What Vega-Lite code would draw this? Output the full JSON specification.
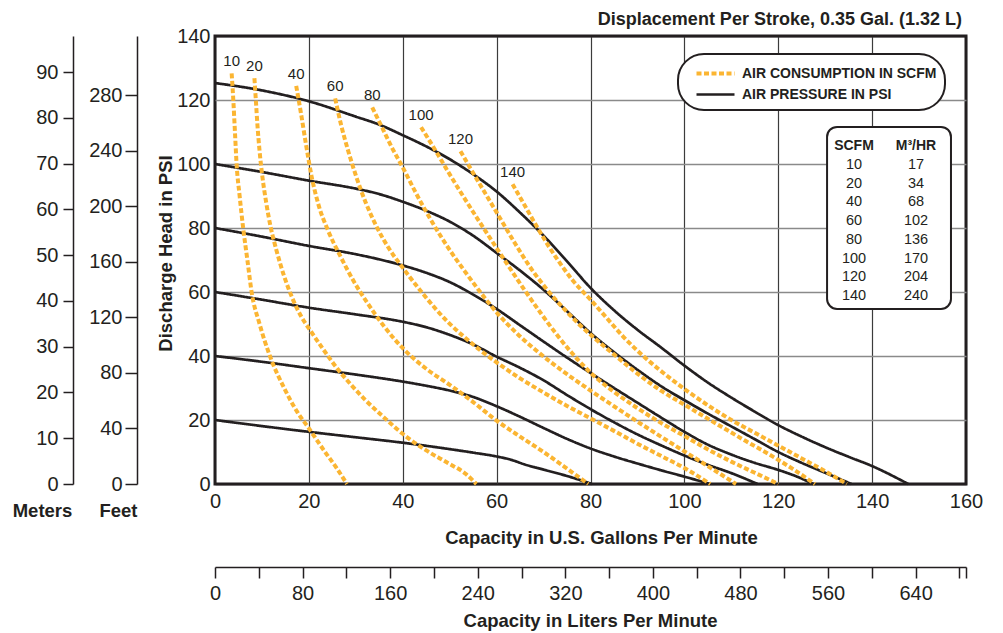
{
  "$schema": "https://vega.github.io/schema/vega-lite/v6.json",
  "width": 751,
  "height": 448,
  "autosize": {"type": "none"},
  "padding": {"left": 215, "top": 36, "right": 37, "bottom": 149},
  "background": "white",
  "title": {"text": "Displacement Per Stroke, 0.35 Gal. (1.32 L)", "anchor": "end", "frame": "group", "font": "Liberation Sans, Arial, sans-serif", "fontSize": 18, "fontWeight": "bold", "color": "#231f20", "offset": -3, "dx": -4},
  "config": {
    "font": "Liberation Sans, Arial, sans-serif",
    "view": {"stroke": "#231f20", "strokeWidth": 3},
    "axis": {"labelFont": "Liberation Sans, Arial, sans-serif", "labelFontSize": 20, "labelColor": "#231f20", "titleFont": "Liberation Sans, Arial, sans-serif", "titleFontSize": 18.5, "titleFontWeight": "bold", "titleColor": "#231f20", "domainColor": "#231f20", "tickColor": "#231f20", "labelOverlap": false, "labelFlush": false},
    "legend": {"strokeWidth": 2},
    "text": {"font": "Liberation Sans, Arial, sans-serif", "color": "#231f20"}
  },
  "datasets": {
    "curves": [
      {"kind":"pressure","curve":"P125","gpm":0,"psi":125.3},{"kind":"pressure","curve":"P125","gpm":10,"psi":123},{"kind":"pressure","curve":"P125","gpm":20,"psi":119.6},{"kind":"pressure","curve":"P125","gpm":30,"psi":114.8},{"kind":"pressure","curve":"P125","gpm":35,"psi":112.3},{"kind":"pressure","curve":"P125","gpm":40,"psi":109},{"kind":"pressure","curve":"P125","gpm":45,"psi":105.5},{"kind":"pressure","curve":"P125","gpm":50,"psi":101.5},{"kind":"pressure","curve":"P125","gpm":55,"psi":96.8},{"kind":"pressure","curve":"P125","gpm":60,"psi":91.4},{"kind":"pressure","curve":"P125","gpm":65,"psi":84.8},{"kind":"pressure","curve":"P125","gpm":70,"psi":77.6},{"kind":"pressure","curve":"P125","gpm":75,"psi":69.6},{"kind":"pressure","curve":"P125","gpm":80,"psi":61.3},{"kind":"pressure","curve":"P125","gpm":85,"psi":54.3},{"kind":"pressure","curve":"P125","gpm":90,"psi":48.2},{"kind":"pressure","curve":"P125","gpm":95,"psi":42.7},{"kind":"pressure","curve":"P125","gpm":100,"psi":37},{"kind":"pressure","curve":"P125","gpm":105,"psi":31.7},{"kind":"pressure","curve":"P125","gpm":110,"psi":27},{"kind":"pressure","curve":"P125","gpm":115,"psi":22.6},{"kind":"pressure","curve":"P125","gpm":120,"psi":18.4},{"kind":"pressure","curve":"P125","gpm":125,"psi":14.8},{"kind":"pressure","curve":"P125","gpm":130,"psi":11.5},{"kind":"pressure","curve":"P125","gpm":135,"psi":8.5},{"kind":"pressure","curve":"P125","gpm":140,"psi":5.6},{"kind":"pressure","curve":"P125","gpm":147.7,"psi":0},
      {"kind":"pressure","curve":"P100","gpm":0,"psi":100},{"kind":"pressure","curve":"P100","gpm":10,"psi":97.5},{"kind":"pressure","curve":"P100","gpm":20,"psi":94.8},{"kind":"pressure","curve":"P100","gpm":30,"psi":92.3},{"kind":"pressure","curve":"P100","gpm":35,"psi":90.6},{"kind":"pressure","curve":"P100","gpm":40,"psi":88.2},{"kind":"pressure","curve":"P100","gpm":45,"psi":85.4},{"kind":"pressure","curve":"P100","gpm":50,"psi":82},{"kind":"pressure","curve":"P100","gpm":55,"psi":77.6},{"kind":"pressure","curve":"P100","gpm":60,"psi":72.2},{"kind":"pressure","curve":"P100","gpm":65,"psi":66.7},{"kind":"pressure","curve":"P100","gpm":70,"psi":60.7},{"kind":"pressure","curve":"P100","gpm":75,"psi":54},{"kind":"pressure","curve":"P100","gpm":80,"psi":47.2},{"kind":"pressure","curve":"P100","gpm":85,"psi":41.2},{"kind":"pressure","curve":"P100","gpm":90,"psi":35.7},{"kind":"pressure","curve":"P100","gpm":95,"psi":30.6},{"kind":"pressure","curve":"P100","gpm":100,"psi":26.2},{"kind":"pressure","curve":"P100","gpm":105,"psi":22},{"kind":"pressure","curve":"P100","gpm":110,"psi":18},{"kind":"pressure","curve":"P100","gpm":115,"psi":14},{"kind":"pressure","curve":"P100","gpm":120,"psi":10},{"kind":"pressure","curve":"P100","gpm":125,"psi":6.6},{"kind":"pressure","curve":"P100","gpm":130,"psi":3.5},{"kind":"pressure","curve":"P100","gpm":135.6,"psi":0},
      {"kind":"pressure","curve":"P80","gpm":0,"psi":80},{"kind":"pressure","curve":"P80","gpm":10,"psi":77.3},{"kind":"pressure","curve":"P80","gpm":20,"psi":74.4},{"kind":"pressure","curve":"P80","gpm":30,"psi":71.8},{"kind":"pressure","curve":"P80","gpm":35,"psi":70.2},{"kind":"pressure","curve":"P80","gpm":40,"psi":68.3},{"kind":"pressure","curve":"P80","gpm":45,"psi":66},{"kind":"pressure","curve":"P80","gpm":50,"psi":63.1},{"kind":"pressure","curve":"P80","gpm":55,"psi":59.2},{"kind":"pressure","curve":"P80","gpm":60,"psi":54.7},{"kind":"pressure","curve":"P80","gpm":65,"psi":49.6},{"kind":"pressure","curve":"P80","gpm":70,"psi":44.5},{"kind":"pressure","curve":"P80","gpm":75,"psi":39.5},{"kind":"pressure","curve":"P80","gpm":80,"psi":34.7},{"kind":"pressure","curve":"P80","gpm":85,"psi":30},{"kind":"pressure","curve":"P80","gpm":90,"psi":25.4},{"kind":"pressure","curve":"P80","gpm":95,"psi":20.8},{"kind":"pressure","curve":"P80","gpm":100,"psi":16.3},{"kind":"pressure","curve":"P80","gpm":105,"psi":12.3},{"kind":"pressure","curve":"P80","gpm":110,"psi":9.2},{"kind":"pressure","curve":"P80","gpm":115,"psi":6.6},{"kind":"pressure","curve":"P80","gpm":120,"psi":4.4},{"kind":"pressure","curve":"P80","gpm":124,"psi":2.3},{"kind":"pressure","curve":"P80","gpm":127.5,"psi":0},
      {"kind":"pressure","curve":"P60","gpm":0,"psi":60},{"kind":"pressure","curve":"P60","gpm":10,"psi":57.6},{"kind":"pressure","curve":"P60","gpm":20,"psi":55.1},{"kind":"pressure","curve":"P60","gpm":30,"psi":53},{"kind":"pressure","curve":"P60","gpm":40,"psi":50.7},{"kind":"pressure","curve":"P60","gpm":45,"psi":49},{"kind":"pressure","curve":"P60","gpm":50,"psi":46.6},{"kind":"pressure","curve":"P60","gpm":55,"psi":43.6},{"kind":"pressure","curve":"P60","gpm":60,"psi":39.8},{"kind":"pressure","curve":"P60","gpm":65,"psi":36.3},{"kind":"pressure","curve":"P60","gpm":70,"psi":32.4},{"kind":"pressure","curve":"P60","gpm":75,"psi":27.8},{"kind":"pressure","curve":"P60","gpm":80,"psi":23.4},{"kind":"pressure","curve":"P60","gpm":85,"psi":19.3},{"kind":"pressure","curve":"P60","gpm":90,"psi":15.5},{"kind":"pressure","curve":"P60","gpm":95,"psi":12.1},{"kind":"pressure","curve":"P60","gpm":100,"psi":8.9},{"kind":"pressure","curve":"P60","gpm":105,"psi":6},{"kind":"pressure","curve":"P60","gpm":110,"psi":3.4},{"kind":"pressure","curve":"P60","gpm":115.6,"psi":0},
      {"kind":"pressure","curve":"P40","gpm":0,"psi":40},{"kind":"pressure","curve":"P40","gpm":10,"psi":38.2},{"kind":"pressure","curve":"P40","gpm":20,"psi":36.2},{"kind":"pressure","curve":"P40","gpm":30,"psi":34.2},{"kind":"pressure","curve":"P40","gpm":40,"psi":32},{"kind":"pressure","curve":"P40","gpm":45,"psi":30.7},{"kind":"pressure","curve":"P40","gpm":50,"psi":29.2},{"kind":"pressure","curve":"P40","gpm":55,"psi":27.2},{"kind":"pressure","curve":"P40","gpm":60,"psi":24.3},{"kind":"pressure","curve":"P40","gpm":65,"psi":21},{"kind":"pressure","curve":"P40","gpm":70,"psi":17.5},{"kind":"pressure","curve":"P40","gpm":75,"psi":14.1},{"kind":"pressure","curve":"P40","gpm":80,"psi":11.1},{"kind":"pressure","curve":"P40","gpm":85,"psi":8.6},{"kind":"pressure","curve":"P40","gpm":90,"psi":6.4},{"kind":"pressure","curve":"P40","gpm":95,"psi":4.3},{"kind":"pressure","curve":"P40","gpm":100,"psi":2.3},{"kind":"pressure","curve":"P40","gpm":105.5,"psi":0},
      {"kind":"pressure","curve":"P20","gpm":0,"psi":20},{"kind":"pressure","curve":"P20","gpm":10,"psi":18.1},{"kind":"pressure","curve":"P20","gpm":20,"psi":16.3},{"kind":"pressure","curve":"P20","gpm":30,"psi":14.6},{"kind":"pressure","curve":"P20","gpm":40,"psi":12.9},{"kind":"pressure","curve":"P20","gpm":50,"psi":10.9},{"kind":"pressure","curve":"P20","gpm":55,"psi":9.8},{"kind":"pressure","curve":"P20","gpm":60,"psi":8.6},{"kind":"pressure","curve":"P20","gpm":63,"psi":7.6},{"kind":"pressure","curve":"P20","gpm":66,"psi":6.1},{"kind":"pressure","curve":"P20","gpm":70,"psi":4.5},{"kind":"pressure","curve":"P20","gpm":75,"psi":2.5},{"kind":"pressure","curve":"P20","gpm":80.3,"psi":0},
      {"kind":"air","curve":"C10","scfm":10,"gpm":3.55,"psi":128.3},{"kind":"air","curve":"C10","scfm":10,"gpm":3.9,"psi":120},{"kind":"air","curve":"C10","scfm":10,"gpm":4.25,"psi":110},{"kind":"air","curve":"C10","scfm":10,"gpm":4.6,"psi":100},{"kind":"air","curve":"C10","scfm":10,"gpm":5.25,"psi":90},{"kind":"air","curve":"C10","scfm":10,"gpm":6,"psi":80},{"kind":"air","curve":"C10","scfm":10,"gpm":6.9,"psi":70},{"kind":"air","curve":"C10","scfm":10,"gpm":7.8,"psi":60},{"kind":"air","curve":"C10","scfm":10,"gpm":9.5,"psi":50},{"kind":"air","curve":"C10","scfm":10,"gpm":11.7,"psi":40},{"kind":"air","curve":"C10","scfm":10,"gpm":14.9,"psi":29.5},{"kind":"air","curve":"C10","scfm":10,"gpm":17.4,"psi":22.8},{"kind":"air","curve":"C10","scfm":10,"gpm":19.9,"psi":17.6},{"kind":"air","curve":"C10","scfm":10,"gpm":23.4,"psi":10.1},{"kind":"air","curve":"C10","scfm":10,"gpm":26,"psi":4.8},{"kind":"air","curve":"C10","scfm":10,"gpm":28.1,"psi":0},
      {"kind":"air","curve":"C20","scfm":20,"gpm":8.4,"psi":126.8},{"kind":"air","curve":"C20","scfm":20,"gpm":8.7,"psi":120},{"kind":"air","curve":"C20","scfm":20,"gpm":9.05,"psi":112},{"kind":"air","curve":"C20","scfm":20,"gpm":9.5,"psi":104},{"kind":"air","curve":"C20","scfm":20,"gpm":10.1,"psi":96},{"kind":"air","curve":"C20","scfm":20,"gpm":10.9,"psi":88},{"kind":"air","curve":"C20","scfm":20,"gpm":11.9,"psi":80},{"kind":"air","curve":"C20","scfm":20,"gpm":13.1,"psi":73},{"kind":"air","curve":"C20","scfm":20,"gpm":14.6,"psi":65.5},{"kind":"air","curve":"C20","scfm":20,"gpm":16.5,"psi":58},{"kind":"air","curve":"C20","scfm":20,"gpm":18.5,"psi":52},{"kind":"air","curve":"C20","scfm":20,"gpm":20.2,"psi":48.2},{"kind":"air","curve":"C20","scfm":20,"gpm":23,"psi":42.2},{"kind":"air","curve":"C20","scfm":20,"gpm":26.3,"psi":35.6},{"kind":"air","curve":"C20","scfm":20,"gpm":29,"psi":31},{"kind":"air","curve":"C20","scfm":20,"gpm":32,"psi":26.3},{"kind":"air","curve":"C20","scfm":20,"gpm":36,"psi":20.8},{"kind":"air","curve":"C20","scfm":20,"gpm":40.3,"psi":15.3},{"kind":"air","curve":"C20","scfm":20,"gpm":45,"psi":10.5},{"kind":"air","curve":"C20","scfm":20,"gpm":49.7,"psi":6.5},{"kind":"air","curve":"C20","scfm":20,"gpm":53.3,"psi":3.3},{"kind":"air","curve":"C20","scfm":20,"gpm":55.7,"psi":0},
      {"kind":"air","curve":"C40","scfm":40,"gpm":17.3,"psi":124.4},{"kind":"air","curve":"C40","scfm":40,"gpm":18.3,"psi":116},{"kind":"air","curve":"C40","scfm":40,"gpm":19.4,"psi":106},{"kind":"air","curve":"C40","scfm":40,"gpm":20.6,"psi":96},{"kind":"air","curve":"C40","scfm":40,"gpm":22.1,"psi":87},{"kind":"air","curve":"C40","scfm":40,"gpm":24,"psi":79.5},{"kind":"air","curve":"C40","scfm":40,"gpm":26.6,"psi":71.5},{"kind":"air","curve":"C40","scfm":40,"gpm":29.5,"psi":63.5},{"kind":"air","curve":"C40","scfm":40,"gpm":32.5,"psi":56.5},{"kind":"air","curve":"C40","scfm":40,"gpm":36,"psi":49.3},{"kind":"air","curve":"C40","scfm":40,"gpm":40.3,"psi":42},{"kind":"air","curve":"C40","scfm":40,"gpm":45,"psi":36},{"kind":"air","curve":"C40","scfm":40,"gpm":50,"psi":31},{"kind":"air","curve":"C40","scfm":40,"gpm":55,"psi":25.6},{"kind":"air","curve":"C40","scfm":40,"gpm":60.2,"psi":19.6},{"kind":"air","curve":"C40","scfm":40,"gpm":65,"psi":14.8},{"kind":"air","curve":"C40","scfm":40,"gpm":69.9,"psi":10.1},{"kind":"air","curve":"C40","scfm":40,"gpm":75,"psi":4.8},{"kind":"air","curve":"C40","scfm":40,"gpm":79.5,"psi":0},
      {"kind":"air","curve":"C60","scfm":60,"gpm":25.6,"psi":120.5},{"kind":"air","curve":"C60","scfm":60,"gpm":26.9,"psi":112},{"kind":"air","curve":"C60","scfm":60,"gpm":28.4,"psi":104},{"kind":"air","curve":"C60","scfm":60,"gpm":30.1,"psi":96},{"kind":"air","curve":"C60","scfm":60,"gpm":32.1,"psi":88},{"kind":"air","curve":"C60","scfm":60,"gpm":34.4,"psi":80.5},{"kind":"air","curve":"C60","scfm":60,"gpm":37.1,"psi":73.5},{"kind":"air","curve":"C60","scfm":60,"gpm":40.3,"psi":67},{"kind":"air","curve":"C60","scfm":60,"gpm":44,"psi":60},{"kind":"air","curve":"C60","scfm":60,"gpm":49.7,"psi":50.5},{"kind":"air","curve":"C60","scfm":60,"gpm":53.3,"psi":45.7},{"kind":"air","curve":"C60","scfm":60,"gpm":56,"psi":42.4},{"kind":"air","curve":"C60","scfm":60,"gpm":60.2,"psi":37.8},{"kind":"air","curve":"C60","scfm":60,"gpm":65,"psi":33},{"kind":"air","curve":"C60","scfm":60,"gpm":70,"psi":28.6},{"kind":"air","curve":"C60","scfm":60,"gpm":75,"psi":24.4},{"kind":"air","curve":"C60","scfm":60,"gpm":80,"psi":20.5},{"kind":"air","curve":"C60","scfm":60,"gpm":85,"psi":16.6},{"kind":"air","curve":"C60","scfm":60,"gpm":90,"psi":12.6},{"kind":"air","curve":"C60","scfm":60,"gpm":95,"psi":8.8},{"kind":"air","curve":"C60","scfm":60,"gpm":100,"psi":5},{"kind":"air","curve":"C60","scfm":60,"gpm":105.5,"psi":0},
      {"kind":"air","curve":"C80","scfm":80,"gpm":33.5,"psi":117.7},{"kind":"air","curve":"C80","scfm":80,"gpm":35.5,"psi":111.7},{"kind":"air","curve":"C80","scfm":80,"gpm":37.6,"psi":105.4},{"kind":"air","curve":"C80","scfm":80,"gpm":40.3,"psi":98.1},{"kind":"air","curve":"C80","scfm":80,"gpm":42.6,"psi":91.5},{"kind":"air","curve":"C80","scfm":80,"gpm":46.2,"psi":82},{"kind":"air","curve":"C80","scfm":80,"gpm":49.7,"psi":73.8},{"kind":"air","curve":"C80","scfm":80,"gpm":53.3,"psi":66.3},{"kind":"air","curve":"C80","scfm":80,"gpm":56.5,"psi":60},{"kind":"air","curve":"C80","scfm":80,"gpm":60,"psi":53.6},{"kind":"air","curve":"C80","scfm":80,"gpm":64.5,"psi":46.8},{"kind":"air","curve":"C80","scfm":80,"gpm":69.2,"psi":40.8},{"kind":"air","curve":"C80","scfm":80,"gpm":75,"psi":34.3},{"kind":"air","curve":"C80","scfm":80,"gpm":80,"psi":29.2},{"kind":"air","curve":"C80","scfm":80,"gpm":85,"psi":24.3},{"kind":"air","curve":"C80","scfm":80,"gpm":90,"psi":19.5},{"kind":"air","curve":"C80","scfm":80,"gpm":95,"psi":14.8},{"kind":"air","curve":"C80","scfm":80,"gpm":100,"psi":10.2},{"kind":"air","curve":"C80","scfm":80,"gpm":105,"psi":5.6},{"kind":"air","curve":"C80","scfm":80,"gpm":111,"psi":0},
      {"kind":"air","curve":"C100","scfm":100,"gpm":43.9,"psi":111.5},{"kind":"air","curve":"C100","scfm":100,"gpm":46.9,"psi":104.4},{"kind":"air","curve":"C100","scfm":100,"gpm":49.7,"psi":97.5},{"kind":"air","curve":"C100","scfm":100,"gpm":52.2,"psi":91.5},{"kind":"air","curve":"C100","scfm":100,"gpm":55,"psi":85},{"kind":"air","curve":"C100","scfm":100,"gpm":58,"psi":78.2},{"kind":"air","curve":"C100","scfm":100,"gpm":60.5,"psi":72.6},{"kind":"air","curve":"C100","scfm":100,"gpm":62.8,"psi":67.5},{"kind":"air","curve":"C100","scfm":100,"gpm":66,"psi":60.5},{"kind":"air","curve":"C100","scfm":100,"gpm":69.5,"psi":53.2},{"kind":"air","curve":"C100","scfm":100,"gpm":72.8,"psi":46.7},{"kind":"air","curve":"C100","scfm":100,"gpm":76,"psi":41},{"kind":"air","curve":"C100","scfm":100,"gpm":80,"psi":34.8},{"kind":"air","curve":"C100","scfm":100,"gpm":85,"psi":28.8},{"kind":"air","curve":"C100","scfm":100,"gpm":90,"psi":23.7},{"kind":"air","curve":"C100","scfm":100,"gpm":95,"psi":19.1},{"kind":"air","curve":"C100","scfm":100,"gpm":100,"psi":15},{"kind":"air","curve":"C100","scfm":100,"gpm":103.3,"psi":12.2},{"kind":"air","curve":"C100","scfm":100,"gpm":110,"psi":7},{"kind":"air","curve":"C100","scfm":100,"gpm":115,"psi":3.5},{"kind":"air","curve":"C100","scfm":100,"gpm":120,"psi":0},
      {"kind":"air","curve":"C120","scfm":120,"gpm":52.3,"psi":104},{"kind":"air","curve":"C120","scfm":120,"gpm":55,"psi":97.2},{"kind":"air","curve":"C120","scfm":120,"gpm":58,"psi":89.8},{"kind":"air","curve":"C120","scfm":120,"gpm":61,"psi":82.4},{"kind":"air","curve":"C120","scfm":120,"gpm":64,"psi":75},{"kind":"air","curve":"C120","scfm":120,"gpm":67.5,"psi":67},{"kind":"air","curve":"C120","scfm":120,"gpm":70.5,"psi":61.2},{"kind":"air","curve":"C120","scfm":120,"gpm":74,"psi":55.3},{"kind":"air","curve":"C120","scfm":120,"gpm":77.5,"psi":50},{"kind":"air","curve":"C120","scfm":120,"gpm":81.3,"psi":45},{"kind":"air","curve":"C120","scfm":120,"gpm":85,"psi":40.5},{"kind":"air","curve":"C120","scfm":120,"gpm":90,"psi":34.5},{"kind":"air","curve":"C120","scfm":120,"gpm":95,"psi":29.2},{"kind":"air","curve":"C120","scfm":120,"gpm":100,"psi":24.8},{"kind":"air","curve":"C120","scfm":120,"gpm":103.3,"psi":21.9},{"kind":"air","curve":"C120","scfm":120,"gpm":108,"psi":17.8},{"kind":"air","curve":"C120","scfm":120,"gpm":113,"psi":13.5},{"kind":"air","curve":"C120","scfm":120,"gpm":118,"psi":9.3},{"kind":"air","curve":"C120","scfm":120,"gpm":123,"psi":4.8},{"kind":"air","curve":"C120","scfm":120,"gpm":127.8,"psi":0},
      {"kind":"air","curve":"C140","scfm":140,"gpm":63.4,"psi":93.7},{"kind":"air","curve":"C140","scfm":140,"gpm":66,"psi":87},{"kind":"air","curve":"C140","scfm":140,"gpm":68.5,"psi":80.6},{"kind":"air","curve":"C140","scfm":140,"gpm":71,"psi":74.5},{"kind":"air","curve":"C140","scfm":140,"gpm":73.5,"psi":69},{"kind":"air","curve":"C140","scfm":140,"gpm":76,"psi":64},{"kind":"air","curve":"C140","scfm":140,"gpm":80,"psi":57.6},{"kind":"air","curve":"C140","scfm":140,"gpm":83.5,"psi":51.8},{"kind":"air","curve":"C140","scfm":140,"gpm":87,"psi":46},{"kind":"air","curve":"C140","scfm":140,"gpm":92,"psi":39},{"kind":"air","curve":"C140","scfm":140,"gpm":97,"psi":33},{"kind":"air","curve":"C140","scfm":140,"gpm":103.3,"psi":26.3},{"kind":"air","curve":"C140","scfm":140,"gpm":110,"psi":20},{"kind":"air","curve":"C140","scfm":140,"gpm":115,"psi":16},{"kind":"air","curve":"C140","scfm":140,"gpm":120,"psi":12},{"kind":"air","curve":"C140","scfm":140,"gpm":125,"psi":8},{"kind":"air","curve":"C140","scfm":140,"gpm":130,"psi":4},{"kind":"air","curve":"C140","scfm":140,"gpm":134.6,"psi":0}
    ],
    "table": [
      {"scfm":"10","m3hr":"17"},{"scfm":"20","m3hr":"34"},{"scfm":"40","m3hr":"68"},{"scfm":"60","m3hr":"102"},{"scfm":"80","m3hr":"136"},{"scfm":"100","m3hr":"170"},{"scfm":"120","m3hr":"204"},{"scfm":"140","m3hr":"240"}
    ]
  },
  "layer": [
    {
      "data": {"name": "curves"},
      "layer": [
        {
          "mark": {"type": "line", "interpolate": "monotone", "strokeCap": "butt"},
          "encoding": {
            "x": {"field": "gpm", "type": "quantitative", "scale": {"domain": [0, 160], "nice": false},
              "axis": {"orient": "bottom", "values": [0,20,40,60,80,100,120,140,160], "grid": true,
                "gridColor": {"condition": {"test": "datum.value === 0 || datum.value === 160", "value": "#231f20"}, "value": "#3c3c3c"},
                "gridWidth": 1.2, "ticks": false, "tickSize": 0, "domain": false, "labelPadding": 7,
                "title": "Capacity in U.S. Gallons Per Minute", "titleX": 386, "titleY": 53, "titleBaseline": "middle", "titleAlign": "center"}},
            "y": {"field": "psi", "type": "quantitative", "scale": {"domain": [0, 140], "nice": false},
              "axis": {"orient": "left", "values": [0,20,40,60,80,100,120,140], "grid": true,
                "gridColor": {"condition": {"test": "datum.value === 0 || datum.value === 140", "value": "#231f20"}, "value": "#8a8a8a"},
                "gridWidth": 1.3, "ticks": false, "tickSize": 0, "domain": false, "labelPadding": 5,
                "title": "Discharge Head in PSI", "titleX": -50, "titleY": 217, "titleAngle": -90, "titleAlign": "center", "titleBaseline": "middle"}},
            "color": {"field": "kind", "type": "nominal", "scale": {"domain": ["air", "pressure"], "range": ["#fbb532", "#231f20"]},
              "legend": {"orient": "none", "legendX": 463, "legendY": 18, "title": null, "symbolType": "M-2,0H2", "symbolSize": 361, "symbolOffset": 18,
                "labelFont": "Liberation Sans, Arial, sans-serif", "labelFontSize": 14, "labelFontWeight": "bold", "labelColor": "#231f20", "labelLimit": 0,
                "labelOffset": 15, "padding": 8, "rowPadding": 1.5, "fillColor": "white", "strokeColor": "#231f20", "cornerRadius": 26,
                "labelExpr": "datum.value === 'air' ? 'AIR CONSUMPTION IN SCFM\u00a0\u00a0\u00a0\u00a0\u00a0\u00a0' : 'AIR PRESSURE IN PSI'"}},
            "strokeDash": {"field": "kind", "type": "nominal", "scale": {"domain": ["air", "pressure"], "range": [[5, 2.5], [1, 0]]}},
            "strokeWidth": {"field": "kind", "type": "nominal", "scale": {"domain": ["air", "pressure"], "range": [4, 2.7]}},
            "detail": {"field": "curve"}
          }
        },
        {
          "transform": [
            {"filter": "datum.kind === 'air'"},
            {"joinaggregate": [{"op": "max", "field": "psi", "as": "top"}], "groupby": ["curve"]},
            {"filter": "datum.psi === datum.top"}
          ],
          "mark": {"type": "text", "dy": -12, "fontSize": 15, "baseline": "middle", "align": "center"},
          "encoding": {
            "x": {"field": "gpm", "type": "quantitative"},
            "y": {"field": "psi", "type": "quantitative"},
            "text": {"field": "scfm"}
          }
        },
        {
          "data": {"values": [{}]},
          "mark": {"type": "rect", "fill": "white", "stroke": "#231f20", "strokeWidth": 2, "cornerRadius": 10},
          "encoding": {
            "x": {"datum": 130.4, "type": "quantitative"}, "x2": {"datum": 156.8},
            "y": {"datum": 111.6, "type": "quantitative"}, "y2": {"datum": 54.7}
          }
        }
      ]
    },
    {
      "data": {"values": [{"m": 0}, {"m": 97.9}]},
      "mark": {"type": "point", "opacity": 0},
      "encoding": {
        "y": {"field": "m", "type": "quantitative", "scale": {"domain": [0, 97.9], "nice": false},
          "axis": {"orient": "left", "offset": 142, "values": [0,10,20,30,40,50,60,70,80,90], "grid": false, "tickSize": 10, "tickWidth": 1.5, "domainWidth": 1.5, "labelPadding": 5,
            "title": "Meters", "titleAngle": 0, "titleX": -31, "titleY": 474, "titleAlign": "center", "titleBaseline": "middle"}}
      }
    },
    {
      "data": {"values": [{"ft": 0}, {"ft": 322.8}]},
      "mark": {"type": "point", "opacity": 0},
      "encoding": {
        "y": {"field": "ft", "type": "quantitative", "scale": {"domain": [0, 322.8], "nice": false},
          "axis": {"orient": "left", "offset": 78, "values": [0,40,80,120,160,200,240,280], "grid": false, "tickSize": 12, "tickWidth": 1.5, "domainWidth": 1.5, "labelPadding": 3,
            "title": "Feet", "titleAngle": 0, "titleX": -19, "titleY": 474, "titleAlign": "center", "titleBaseline": "middle"}}
      }
    },
    {
      "data": {"values": [{"lpm": 0}, {"lpm": 686}]},
      "mark": {"type": "point", "opacity": 0},
      "encoding": {
        "x": {"field": "lpm", "type": "quantitative", "scale": {"domain": [0, 686], "nice": false},
          "axis": {"orient": "bottom", "offset": 83, "values": [0,40,80,120,160,200,240,280,320,360,400,440,480,520,560,600,640,680,686], "grid": false,
            "tickSize": 11, "tickWidth": 1.5, "domainWidth": 1.5, "labelPadding": 5,
            "labelExpr": "datum.value % 80 === 0 ? datum.label : ''",
            "title": "Capacity in Liters Per Minute", "titleX": 375, "titleY": 53, "titleBaseline": "middle", "titleAlign": "center"}}
      }
    },
    {
      "layer": [
        {
          "data": {"name": "table"},
          "transform": [{"fold": ["scfm", "m3hr"], "as": ["col", "val"]}],
          "mark": {"type": "text", "fontSize": 14.5, "baseline": "middle", "align": "center"},
          "encoding": {
            "x": {"field": "col", "type": "nominal", "scale": {"type": "point", "domain": ["scfm", "m3hr"], "range": [639, 701], "padding": 0}, "axis": null},
            "y": {"field": "scfm", "type": "ordinal", "scale": {"type": "point", "domain": ["head","10","20","40","60","80","100","120","140"], "range": [110, 260], "padding": 0}, "axis": null},
            "text": {"field": "val"}
          }
        },
        {
          "data": {"values": [{"col": "scfm", "head": "SCFM"}, {"col": "m3hr", "head": "M³/HR"}]},
          "mark": {"type": "text", "fontSize": 14, "fontWeight": "bold", "baseline": "middle", "align": "center"},
          "encoding": {
            "x": {"field": "col", "type": "nominal"},
            "y": {"datum": "head", "type": "ordinal"},
            "text": {"field": "head"}
          }
        }
      ]
    }
  ],
  "resolve": {"scale": {"x": "independent", "y": "independent"}}
}
